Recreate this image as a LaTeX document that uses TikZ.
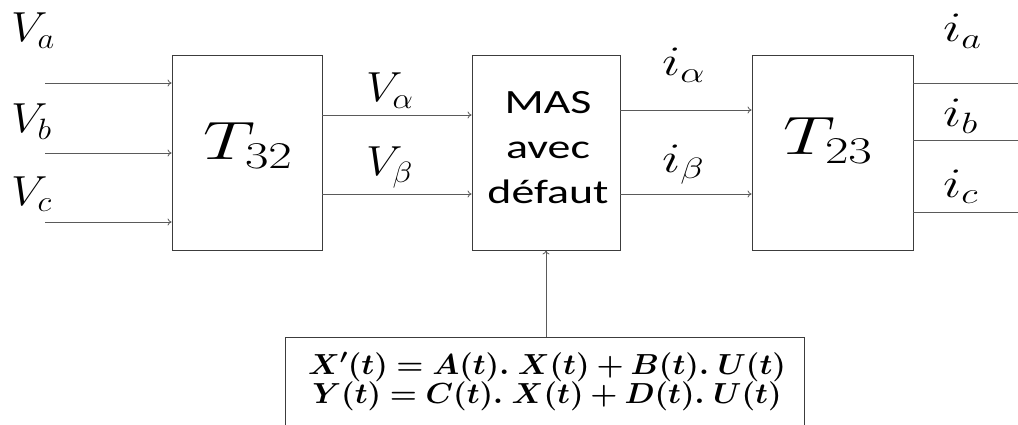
\RequirePackage{fix-cm}
\documentclass[tikz,border=0pt]{standalone}
\usepackage{amsmath,bm}
\usepackage{graphicx}
\usepackage{fontspec}
\newfontfamily\boxsans{Carlito}
\usetikzlibrary{arrows.meta}
\definecolor{ink}{HTML}{000000}
\definecolor{wire}{HTML}{5A5A5A}
\definecolor{frame}{HTML}{3C3C3C}
\newcommand{\widen}[2]{\scalebox{#1}[1]{#2}}

\begin{document}
\begin{tikzpicture}[
  x=1pt,y=-1pt,
  text=ink,
  block/.style={draw=frame, line width=0.9pt, inner sep=0pt, minimum height=195pt},
  flow/.style={-{To[length=4pt,width=7pt]}, line width=0.8pt, draw=wire},
  signal/.style={font=\fontsize{42}{46}\selectfont, inner sep=0pt, anchor=base west},
  blockname/.style={font=\fontsize{54}{60}\selectfont, inner sep=0pt, anchor=base west},
  masname/.style={font=\boxsans\fontsize{34}{45}\selectfont, inner sep=0pt,
    align=center, anchor=base},
  eqtext/.style={font=\fontsize{29}{29}\selectfont, inner sep=0pt, align=center, anchor=base}
]
\useasboundingbox (0,0) rectangle (1018,425);
\clip (0,0) rectangle (1018,425);

% Blocks
\node[block, minimum width=150pt] (t32) at (247,152.5) {};
\node[block, minimum width=148pt] (mas) at (546,152.5) {};
\node[block, minimum width=161pt] (t23) at (832.5,152.5) {};
\node[block, minimum width=519pt, minimum height=120pt, anchor=north] (model) at (544.5,337) {};

\node[blockname] (t32name) at (203,160) {\widen{1.35}{$T_{32}$}};
\node[blockname] (t23name) at (783,155) {\widen{1.35}{$T_{23}$}};
\node[masname] (masname) at (548,204) {\widen{1.35}{MAS}\\\widen{1.35}{avec}\\\widen{1.35}{défaut}};
\node[eqtext] (eqs) at (547,403)
  {\widen{1.07}{$\bm{X'(t) = A(t).\;X(t) + B(t).\;U(t)}$}\\
   \widen{1.07}{$\bm{Y(t) = C(t).\;X(t) + D(t).\;U(t)}$}};

% Three-phase inputs
\coordinate (vain) at (45,83);
\coordinate (vbin) at (45,153);
\coordinate (vcin) at (45,222);
\node[signal] (va) at (11,42) {\widen{1.1}{$V_a$}};
\node[signal] (vb) at (11,133) {\widen{1.1}{$V_b$}};
\node[signal] (vc) at (11,205) {\widen{1.1}{$V_c$}};
\draw[flow] (vain) -- (t32.west |- vain);
\draw[flow] (vbin) -- (t32.west |- vbin);
\draw[flow] (vcin) -- (t32.west |- vcin);

% Two-phase voltages
\node[signal] (valpha) at (366,102) {\widen{1.1}{$V_\alpha$}};
\node[signal] (vbeta) at (366,176) {\widen{1.1}{$V_\beta$}};
\draw[flow] (t32.east |- 0,115) -- (mas.west |- 0,115);
\draw[flow] (t32.east |- 0,194) -- (mas.west |- 0,194);

% Two-phase currents
\node[signal] (ialpha) at (662,76) {\widen{1.3}{$i_\alpha$}};
\node[signal] (ibeta) at (662,172) {\widen{1.3}{$i_\beta$}};
\draw[flow] (mas.east |- 0,110) -- (t23.west |- 0,110);
\draw[flow] (mas.east |- 0,194) -- (t23.west |- 0,194);

% Three-phase outputs
\coordinate (iaout) at (1023,83);
\coordinate (ibout) at (1023,140);
\coordinate (icout) at (1023,212);
\node[signal] (ia) at (943,42) {\widen{1.3}{$i_a$}};
\node[signal] (ib) at (943,127) {\widen{1.3}{$i_b$}};
\node[signal] (ic) at (943,197) {\widen{1.3}{$i_c$}};
\draw[flow] (t23.east |- iaout) -- (iaout);
\draw[flow] (t23.east |- ibout) -- (ibout);
\draw[flow] (t23.east |- icout) -- (icout);

% State-space model
\draw[flow] (mas.south |- model.north) -- (mas.south);

\end{tikzpicture}
\end{document}
